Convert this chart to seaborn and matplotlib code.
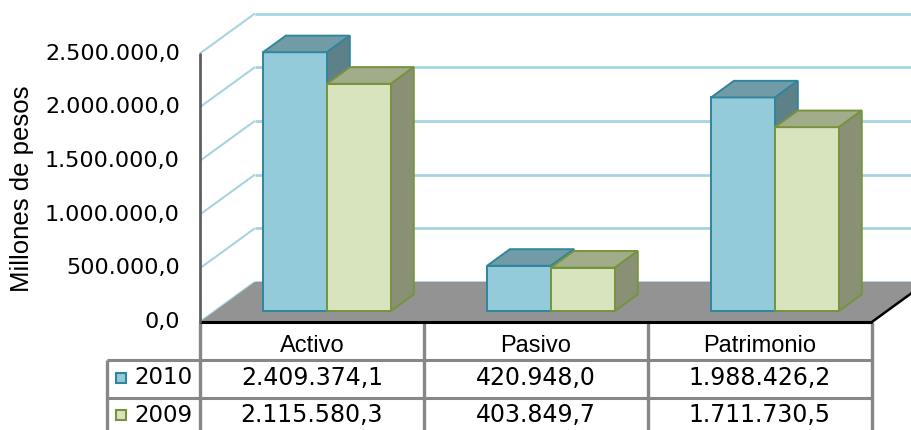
import numpy as np
import pandas as pd
import matplotlib
matplotlib.use("Agg")
import matplotlib.pyplot as plt
import seaborn as sns
from matplotlib.patches import Polygon

# ---------------- data ----------------
categories = ["Activo", "Pasivo", "Patrimonio"]
years = ["2010", "2009"]
values_2010 = [2409374.1, 420948.0, 1988426.2]
values_2009 = [2115580.3, 403849.7, 1711730.5]
y_ticks = [0, 500000, 1000000, 1500000, 2000000, 2500000]
y_label = "Millones de pesos"

# ---------------- styles ----------------
front_colors = {"2010": "#94CBDB", "2009": "#D7E4BD"}
top_colors = {"2010": "#719BA6", "2009": "#A1AD8A"}
side_colors = {"2010": "#5E8189", "2009": "#8A9076"}
edge_colors = {"2010": "#31859C", "2009": "#77933C"}
grid_color = "#A6D4E1"
floor_color = "#939393"
table_line = "#878787"

W, H = 912, 430
PX_CAT = 224.0          # pixels per category on the drawing plane
PX_VAL = 107.4e-6       # pixels per value unit
X0_PX = 327.0           # pixel x of category 0 on the bar plane
Y0_PX = 311.0           # pixel y of value 0 on the bar plane


def px2x(px):
    return (px - X0_PX) / PX_CAT


def py2y(py):
    return (Y0_PX - py) / PX_VAL


DEPTH_X = 55 / PX_CAT
DEPTH_Y = 40 / PX_VAL
D_BAR0 = 0.275    # depth of the bar front faces
D_BAR = 0.415     # depth of the bars


def proj(x, y, d):
    return x + (d - D_BAR0) * DEPTH_X, y + (d - D_BAR0) * DEPTH_Y


def fmt(v):
    s = f"{v:,.1f}"
    return s.replace(",", "X").replace(".", ",").replace("X", ".")


sns.set_theme(style="white")
plt.rcParams["font.family"] = ["Liberation Sans", "DejaVu Sans"]

fig = plt.figure(figsize=(W / 100, H / 100), dpi=100)
ax = fig.add_axes([0, 0, 1, 1])

df = pd.DataFrame({
    "categoria": categories * 2,
    "anio": [years[0]] * len(categories) + [years[1]] * len(categories),
    "valor": values_2010 + values_2009,
})

sns.barplot(data=df, x="categoria", y="valor", hue="anio", order=categories,
            hue_order=years, palette=front_colors, width=0.571, dodge=True,
            saturation=1, errorbar=None, legend=False, ax=ax)

ax.set_xlim(px2x(0), px2x(W))
ax.set_ylim(py2y(H), py2y(0))
ax.axis("off")

ncat = len(categories)
left, right = -0.5, ncat - 0.5

# ---- walls gridlines ----
for v in y_ticks:
    p0 = proj(left, v, 0)
    p1 = proj(left, v, 1)
    p2 = proj(right + 1, v, 1)
    ax.plot([p0[0], p1[0]], [p0[1], p1[1]], color=grid_color, lw=1.5,
            zorder=1, solid_capstyle="butt")
    ax.plot([p1[0], p2[0]], [p1[1], p2[1]], color=grid_color, lw=2.0,
            zorder=1, solid_capstyle="butt")

# ---- floor ----
floor = [proj(left, 0, 0), proj(left, 0, 1), proj(right + 0.3, 0, 1),
         proj(right + 0.3, 0, 0)]
ax.add_patch(Polygon(floor, closed=True, facecolor=floor_color,
                     edgecolor="none", zorder=2))
fr0, fr1 = proj(left, 0, 0), proj(right, 0, 0)
ax.plot([fr0[0], fr1[0]], [fr0[1], fr1[1]], color="black", lw=2.2, zorder=2.5,
        solid_capstyle="butt")
br = proj(right, 0, 1)
ax.plot([fr1[0], br[0]], [fr1[1], br[1]], color="black", lw=1.8, zorder=2.5)
# mask floor beyond front-right edge
ax.add_patch(Polygon([fr1, br, (br[0] + 1, br[1]), (fr1[0] + 1, fr1[1])],
                     closed=True, facecolor="white", edgecolor="none",
                     zorder=2.2))

# ---- y axis ----
a0, a1 = proj(left, 0, 0), proj(left, y_ticks[-1], 0)
ax.plot([a0[0], a1[0]], [a0[1], a1[1]], color="#5F5F5F", lw=2.0, zorder=2.6)
for v in y_ticks:
    tx, ty = proj(left, v, 0)
    ax.text(tx - 20 / PX_CAT, ty, fmt(v), ha="right", va="center",
            fontsize=16, family="DejaVu Sans", color="black")
ax.text(px2x(22), py2y(189), y_label, rotation=90, ha="center", va="center",
        fontsize=18.5, color="black")

# ---- 3D bars ----
bdx = D_BAR * DEPTH_X
bdy = D_BAR * DEPTH_Y
for p in ax.patches[:]:
    if not hasattr(p, "get_width") or p.get_facecolor()[3] == 0:
        continue
    x0 = p.get_x()
    w = p.get_width()
    h = p.get_height()
    cx = x0 + w / 2
    if not np.isfinite(h) or h == 0:
        continue
    yr = years[0] if cx < round(cx) else years[1]
    z = 3 if yr == years[0] else 4
    x1 = x0 + w
    p.set_facecolor(front_colors[yr])
    p.set_edgecolor(edge_colors[yr])
    p.set_linewidth(1.4)
    p.set_zorder(z)
    top = [(x0, h), (x1, h), (x1 + bdx, h + bdy), (x0 + bdx, h + bdy)]
    side = [(x1, 0), (x1 + bdx, bdy), (x1 + bdx, h + bdy), (x1, h)]
    ax.add_patch(Polygon(top, closed=True, facecolor=top_colors[yr],
                         edgecolor=edge_colors[yr], lw=1.4, zorder=z))
    ax.add_patch(Polygon(side, closed=True, facecolor=side_colors[yr],
                         edgecolor=edge_colors[yr], lw=1.4, zorder=z))

# ---- data table ----
col_x = [proj(k - 0.5, 0, 0)[0] for k in range(ncat + 1)]
y_top = proj(left, 0, 0)[1]
y_r1 = py2y(360)
y_r2 = py2y(398)
y_bot = py2y(H + 5)
x_leg = px2x(107)
for cx_ in col_x:
    ax.plot([cx_, cx_], [y_top, y_bot], color=table_line, lw=2.4, zorder=2.4,
            clip_on=False, solid_capstyle="butt")
ax.plot([x_leg, x_leg], [y_r1, y_bot], color=table_line, lw=2.4, zorder=2.4,
        solid_capstyle="butt")
for yy in (y_r1, y_r2):
    ax.plot([x_leg, col_x[-1]], [yy, yy], color=table_line, lw=2.2,
            zorder=2.4, solid_capstyle="butt")

centers = [(col_x[k] + col_x[k + 1]) / 2 for k in range(ncat)]
for k, c in enumerate(categories):
    ax.text(centers[k], py2y(346), c, ha="center", va="center", fontsize=17,
            family="Liberation Sans", color="black")

rows = [(years[0], values_2010, py2y(378)), (years[1], values_2009, py2y(415))]
for yr, vals, yy in rows:
    ax.plot([px2x(120.5)], [yy], marker="s", markersize=7.5,
            markerfacecolor=front_colors[yr], markeredgecolor=edge_colors[yr],
            markeredgewidth=1.5, zorder=5)
    ax.text(px2x(134), yy, yr, ha="left", va="center", fontsize=16.5,
            family="DejaVu Sans", color="black")
    for k, v in enumerate(vals):
        ax.text(centers[k], yy, fmt(v), ha="center", va="center",
                fontsize=17, family="DejaVu Sans", color="black")

fig.savefig("out.png", dpi=100)
